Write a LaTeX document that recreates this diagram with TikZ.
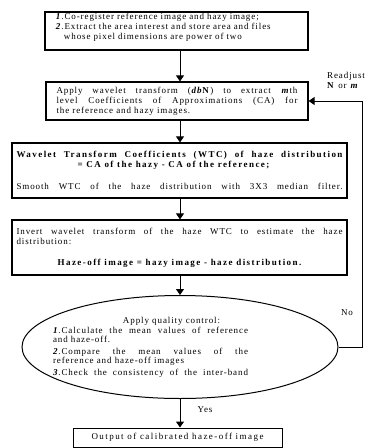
\documentclass[tikz,border=0pt]{standalone}
\usepackage{fontspec}
\setmainfont{Liberation Serif}[LetterSpace=10,BoldFeatures={LetterSpace=16}]
\usetikzlibrary{shapes.geometric,arrows.meta}
\begin{document}
\begin{tikzpicture}[x=1pt,y=-1pt,
  font=\fontsize{9}{10}\selectfont,
  stepbox/.style={draw,line width=1.2pt,inner sep=0pt},
  flow/.style={line width=1pt,-{Triangle[width=8pt,length=6pt]}},
  lbl/.style={inner sep=0pt}]
\useasboundingbox (0,0) rectangle (370,448);
\coordinate (axis) at (180,0);
\coordinate (back) at (362,0);
\node[stepbox,minimum width=263pt,minimum height=38pt,text width=241pt,align=left] (reg) at (176.5,31)
  {\textbf{\textit{1}}.Co-register reference image and hazy image;\\
   \textbf{\textit{2}}.Extract the area interest and store area and files\\
   \hspace*{8pt}whose pixel dimensions are power of two\\ \mbox{}};
\node[stepbox,minimum width=262pt,minimum height=38pt,text width=241pt,align=justify] (wav) at (177,101)
  {Apply wavelet transform (\textbf{\textit{db}N}) to extract \textbf{\textit{m}}th\linebreak
   level Coefficients of Approximations (CA) for\linebreak
   the reference and hazy images.};
\node[stepbox,minimum width=335pt,minimum height=55pt,text width=326pt,align=justify] (wtc) at (179.5,170.5)
  {{\noindent\bfseries\parfillskip=0pt Wavelet Transform Coefficients (WTC) of haze distribution\par}
   \centerline{\bfseries\addfontfeature{LetterSpace=5}= CA of the hazy - CA of the reference;\hspace*{12pt}}\vspace{12pt}
   {\noindent\parfillskip=0pt Smooth WTC of the haze distribution with 3X3 median filter.\par}};
\node[stepbox,minimum width=335pt,minimum height=55pt,text width=326pt,align=justify] (inv) at (179.5,247.5)
  {Invert wavelet transform of the haze WTC to estimate the haze\linebreak
   distribution:\par\vspace{11pt}
   \centerline{\bfseries\addfontfeature{LetterSpace=12}Haze-off image = hazy image - haze distribution.}};
\node[draw,ellipse,line width=1pt,minimum width=316pt,minimum height=103pt,inner sep=0pt] (qc) at (180,347) {};
\node[lbl,text width=195pt,align=justify,font=\fontsize{9}{8.5}\selectfont] (qctext) at (150.5,347.5)
  {\hspace*{70pt}Apply quality control:\\[2pt]
   \textbf{\textit{1}}.Calculate the mean values of reference\linebreak
   and haze-off.\\[4pt]
   \textbf{\textit{2}}.Compare the mean values of the\linebreak
   reference and haze-off images\\[4pt]
   {\parfillskip=0pt\textbf{\textit{3}}.Check the consistency of the inter-band\par}};
\node[stepbox,line width=1pt,minimum width=209pt,minimum height=19pt,
  font=\fontsize{9}{10}\selectfont\addfontfeature{LetterSpace=16}] (out) at (177.5,437.5)
  {Output of calibrated haze-off image};
\draw[flow] (reg.south -| axis) -- (wav.north -| axis);
\draw[flow] (wav.south -| axis) -- (wtc.north -| axis);
\draw[flow] (wtc.south -| axis) -- (inv.north -| axis);
\draw[flow] (inv.south -| axis) -- (qc.north);
\draw[flow] (qc.south) -- (out.north -| axis);
\draw[flow] (qc.east) -- (qc.east -| back) -- (wav.east -| back) -- (wav.east);
\node[lbl,anchor=west,align=left] (readj) at (327,80) {Readjust\\\textbf{N} or \textbf{\textit{m}}};
\node[lbl] (no) at (347,313) {No};
\node[lbl] (yes) at (205,410) {Yes};
\end{tikzpicture}
\end{document}
